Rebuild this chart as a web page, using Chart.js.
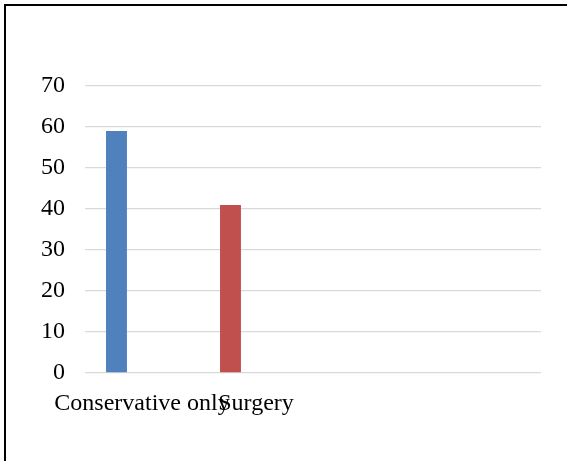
<html>
  <head>
    <script src="https://cdn.jsdelivr.net/npm/chart.js@4/dist/chart.umd.min.js"></script>
    <style>
      body { margin: 0; background: #fff; }
      .frame {
        position: absolute;
        left: 4px; top: 4px;
        width: 600px; height: 455px;
        border-left: 2px solid #000;
        border-top: 2px solid #000;
        border-bottom: 1px solid #d9d9d9;
      }
      #wrap { position: absolute; left: 0; top: 0; width: 567px; height: 461px; }
    </style>
  </head>
  <body>
    <div class="frame"></div>
    <div id="wrap"><canvas id="chart" width="567" height="461"></canvas></div>
    <script>
      // categories along the bottom (last two slots left empty)
      var categories = ['Conservative only', 'Surgery', '', ''];
      var patients = [59, 41, null, null];
      var barColors = ['#4f81bd', '#c0504d', '#4f81bd', '#4f81bd'];
      // second series is empty, it only reserves the slot to the right
      var spare = [null, null, null, null];
      var yTicks = [0, 10, 20, 30, 40, 50, 60, 70];

      var font = { family: "'Liberation Serif', 'Times New Roman', serif", size: 24 };

      new Chart(document.getElementById('chart').getContext('2d'), {
        type: 'bar',
        data: {
          labels: categories,
          datasets: [
            { data: patients, backgroundColor: barColors, categoryPercentage: 0.895, barPercentage: 0.41 },
            { data: spare, backgroundColor: '#c0504d', categoryPercentage: 0.895, barPercentage: 0.41 }
          ]
        },
        options: {
          responsive: false,
          animation: false,
          layout: { padding: { left: 0, right: 26, top: 86, bottom: 38 } },
          plugins: { legend: { display: false }, tooltip: { enabled: false } },
          scales: {
            x: {
              grid: { display: false },
              border: { display: false },
              ticks: { color: '#000', font: font, autoSkip: false, maxRotation: 0, minRotation: 0, padding: 8 },
              afterFit: function(scale) { scale.height = 50; }
            },
            y: {
              min: 0,
              max: 70,
              afterBuildTicks: function(scale) { scale.ticks = yTicks.map(function(v) { return { value: v }; }); },
              grid: { color: '#d9d9d9', lineWidth: 1.3, drawTicks: false },
              border: { display: false },
              ticks: { color: '#000', font: font, padding: 20 },
              afterFit: function(scale) { scale.width = 85; }
            }
          }
        }
      });
    </script>
  </body>
</html>
